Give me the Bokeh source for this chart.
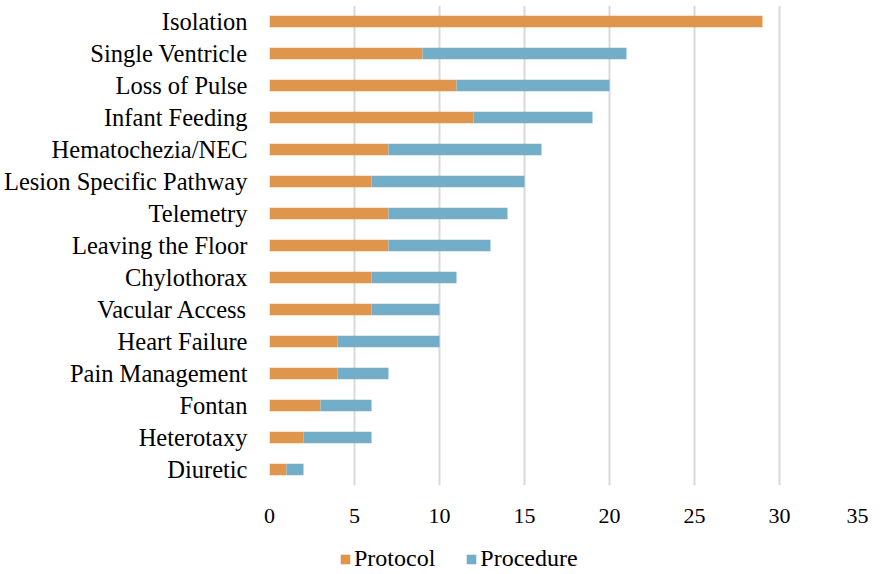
from bokeh.plotting import figure
from bokeh.layouts import column
from bokeh.models import FactorRange, Range1d, Legend, LegendItem, ColumnDataSource, FixedTicker
from bokeh.embed import file_html
from bokeh.resources import INLINE

categories = ["Isolation", "Single Ventricle", "Loss of Pulse", "Infant Feeding",
              "Hematochezia/NEC", "Lesion Specific Pathway", "Telemetry",
              "Leaving the Floor", "Chylothorax", "Vacular Access", "Heart Failure",
              "Pain Management", "Fontan", "Heterotaxy", "Diuretic"]
protocol = [29, 9, 11, 12, 7, 6, 7, 7, 6, 6, 4, 4, 3, 2, 1]
procedure = [0, 12, 9, 7, 9, 9, 7, 6, 5, 4, 6, 3, 3, 4, 1]
series = ["Protocol", "Procedure"]
x_ticks = [0, 5, 10, 15, 20, 25, 30, 35]

FONT = "Liberation Serif"
ORANGE = "#E0954D"
BLUE = "#72AEC8"

src = ColumnDataSource(dict(cat=categories, protocol=protocol, procedure=procedure))

p = figure(width=868, height=533, output_backend="svg", toolbar_location=None,
           y_range=FactorRange(factors=list(reversed(categories))),
           x_range=Range1d(0, 35))
p.min_border_left = 265
p.min_border_right = 4
p.min_border_top = 5
p.min_border_bottom = 48
p.outline_line_color = None

r = p.hbar_stack(["protocol", "procedure"], y="cat", height=0.36, color=[ORANGE, BLUE],
                 source=src, line_color=None)

p.ygrid.grid_line_color = None
p.xgrid.grid_line_color = "#D9D9D9"
p.xgrid.grid_line_width = 2
p.xaxis.ticker = FixedTicker(ticks=x_ticks)

for ax in (p.xaxis[0], p.yaxis[0]):
    ax.axis_line_color = None
    ax.major_tick_line_color = None
    ax.minor_tick_line_color = None
    ax.major_label_text_font = FONT
    ax.major_label_text_color = "#000000"
p.xaxis.major_label_text_font_size = "22px"
p.yaxis.major_label_text_font_size = "24.5px"
p.xaxis.major_label_standoff = 17
p.yaxis.major_label_standoff = 16

# legend strip below the chart
lf = figure(width=868, height=39, output_backend="svg", toolbar_location=None,
            x_axis_type=None, y_axis_type=None, x_range=Range1d(0, 1), y_range=Range1d(0, 1))
lf.min_border_left = 265
lf.min_border_right = 0
lf.min_border_top = 0
lf.min_border_bottom = 0
lf.outline_line_color = None
lf.xgrid.visible = False
lf.ygrid.visible = False
# zero-size swatch renderers, only used for the legend keys
l1 = lf.hbar(y=[0], left=[0], right=[0], height=0, color=ORANGE, line_color=None)
l2 = lf.hbar(y=[0], left=[0], right=[0], height=0, color=BLUE, line_color=None)

legend = Legend(items=[LegendItem(label=series[0], renderers=[l1]),
                       LegendItem(label=series[1], renderers=[l2])],
                orientation="horizontal", location=(70, 0),
                label_text_font=FONT, label_text_font_size="24px", label_text_color="#000000",
                glyph_width=12, glyph_height=12, spacing=30, label_standoff=3,
                border_line_color=None, background_fill_alpha=0, margin=0, padding=0)
lf.add_layout(legend, "center")

layout = column(p, lf, spacing=0)
open("out.html", "w").write(file_html(layout, INLINE))
